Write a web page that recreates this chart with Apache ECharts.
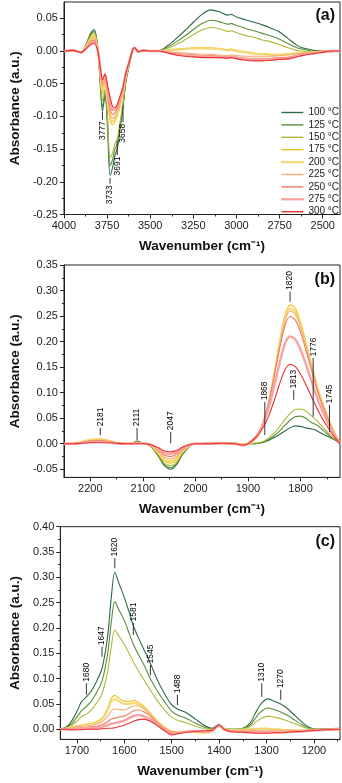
<!DOCTYPE html>
<html>
<head>
<meta charset="utf-8">
<script src="https://cdn.jsdelivr.net/npm/echarts@6.0.0/dist/echarts.min.js"></script>
<style>
  html, body { margin: 0; padding: 0; background: #fff; }
  #chart { width: 342px; height: 783px; }
</style>
</head>
<body>
<div id="chart"></div>
<script>
// legend labels
const TEMPS = ["100 °C", "125 °C", "150 °C", "175 °C", "200 °C", "225 °C", "250 °C", "275 °C", "300 °C"];

// ---- panel (a): OH region ----
const wnA = [4000, 3950, 3900, 3870, 3845, 3825, 3805, 3790, 3777, 3762,
  3748, 3733, 3718, 3705, 3690, 3675, 3658, 3640, 3620, 3600,
  3590, 3570, 3540, 3500, 3450, 3400, 3350, 3300, 3250, 3200,
  3150, 3100, 3050, 3030, 3000, 2950, 2900, 2850, 2800, 2750,
  2700, 2650, 2620, 2600, 2550, 2500, 2450, 2400];
const a100 = [0, 0.001, -0.003, 0.012, 0.027, 0.033, 0.008, -0.05, -0.092, -0.068,
  -0.115, -0.19, -0.178, -0.16, -0.148, -0.12, -0.086, -0.046, -0.02, 0.003,
  0.005, -0.001, 0.001, 0, 0, 0.008, 0.019, 0.031, 0.044, 0.056,
  0.063, 0.06, 0.055, 0.056, 0.052, 0.048, 0.044, 0.04, 0.035, 0.029,
  0.019, 0.009, 0.005, 0.004, 0.001, 0, -0.001, 0];
const a125 = [0, 0.001, -0.002, 0.011, 0.025, 0.03, 0.007, -0.045, -0.085, -0.063,
  -0.105, -0.175, -0.166, -0.15, -0.14, -0.114, -0.083, -0.044, -0.019, 0.003,
  0.005, -0.001, 0.001, 0, 0, 0.006, 0.014, 0.023, 0.033, 0.042,
  0.047, 0.045, 0.041, 0.042, 0.039, 0.035, 0.031, 0.027, 0.023, 0.018,
  0.011, 0.005, 0.003, 0.002, 0, 0, -0.001, 0];
const a150 = [0, 0.001, -0.002, 0.01, 0.023, 0.028, 0.006, -0.04, -0.076, -0.058,
  -0.098, -0.163, -0.156, -0.142, -0.133, -0.108, -0.079, -0.042, -0.018, 0.003,
  0.005, -0.001, 0.001, 0, 0, 0.004, 0.01, 0.017, 0.025, 0.032,
  0.036, 0.034, 0.03, 0.031, 0.028, 0.024, 0.021, 0.017, 0.014, 0.01,
  0.005, 0.001, 0, -0.001, -0.001, 0, 0, 0];
const a175 = [0, 0.001, -0.002, 0.009, 0.02, 0.025, 0.004, -0.035, -0.065, -0.05,
  -0.078, -0.106, -0.113, -0.108, -0.099, -0.085, -0.066, -0.037, -0.017, 0.003,
  0.005, -0.001, 0.001, 0, 0, 0.002, 0.003, 0.004, 0.005, 0.005,
  0.005, 0.004, 0.002, 0.003, 0.001, -0.001, -0.003, -0.004, -0.005, -0.005,
  -0.004, -0.003, -0.003, -0.002, -0.001, 0, 0, 0];
const a200 = [0, 0.001, -0.002, 0.008, 0.018, 0.022, 0.004, -0.032, -0.06, -0.046,
  -0.073, -0.1, -0.108, -0.104, -0.096, -0.082, -0.064, -0.036, -0.017, 0.003,
  0.005, -0.001, 0.001, 0, 0, 0.001, 0.002, 0.003, 0.004, 0.004,
  0.004, 0.003, 0.001, 0.002, 0, -0.002, -0.004, -0.005, -0.006, -0.006,
  -0.005, -0.004, -0.003, -0.003, -0.002, -0.001, 0, 0];
const a225 = [0, 0.001, -0.002, 0.007, 0.016, 0.02, 0.003, -0.03, -0.055, -0.043,
  -0.068, -0.095, -0.103, -0.1, -0.093, -0.079, -0.062, -0.035, -0.016, 0.003,
  0.005, -0.001, 0.001, 0, 0, -0.001, -0.002, -0.003, -0.004, -0.005,
  -0.005, -0.006, -0.007, -0.006, -0.007, -0.008, -0.008, -0.008, -0.008, -0.007,
  -0.006, -0.004, -0.003, -0.003, -0.002, -0.001, 0, 0];
const a250 = [0, 0.001, -0.002, 0.006, 0.014, 0.017, 0.002, -0.028, -0.05, -0.04,
  -0.062, -0.087, -0.097, -0.095, -0.088, -0.075, -0.059, -0.034, -0.016, 0.003,
  0.005, -0.001, 0.001, 0, 0, -0.002, -0.004, -0.005, -0.006, -0.007,
  -0.007, -0.008, -0.009, -0.008, -0.009, -0.011, -0.011, -0.011, -0.011, -0.01,
  -0.009, -0.007, -0.005, -0.004, -0.003, -0.001, 0, 0];
const a275 = [0, 0.001, -0.002, 0.005, 0.012, 0.014, 0.002, -0.026, -0.047, -0.037,
  -0.057, -0.078, -0.09, -0.09, -0.084, -0.072, -0.057, -0.033, -0.015, 0.003,
  0.005, -0.001, 0.001, 0, 0, -0.002, -0.005, -0.006, -0.007, -0.008,
  -0.009, -0.009, -0.01, -0.009, -0.01, -0.012, -0.013, -0.013, -0.012, -0.012,
  -0.011, -0.008, -0.006, -0.005, -0.003, -0.001, 0, 0];
const a300 = [0, 0.001, -0.002, 0.004, 0.01, 0.012, 0.001, -0.024, -0.044, -0.035,
  -0.052, -0.07, -0.085, -0.087, -0.081, -0.069, -0.055, -0.032, -0.015, 0.003,
  0.005, -0.001, 0.001, 0, 0, -0.003, -0.006, -0.008, -0.009, -0.01,
  -0.01, -0.01, -0.011, -0.01, -0.012, -0.014, -0.015, -0.015, -0.014, -0.013,
  -0.012, -0.009, -0.007, -0.006, -0.004, -0.002, 0, 0];
// peak labels: [wavenumber, line start, line end]
const annA = [[3777, -0.093, -0.105], [3733, -0.194, -0.203], [3691, -0.138, -0.159], [3658, -0.083, -0.109]];
const xTicksA = [2500, 2750, 3000, 3250, 3500, 3750, 4000];
const xMinorA = [2625, 2875, 3125, 3375, 3625, 3875];
const yTicksA = [-0.25, -0.2, -0.15, -0.1, -0.05, 0, 0.05];
const yMinorA = [-0.225, -0.175, -0.125, -0.075, -0.025, 0.025];

// ---- panel (b): carbonyl region ----
const wnB = [2250, 2230, 2215, 2200, 2181, 2165, 2150, 2135, 2120, 2111,
  2100, 2085, 2070, 2060, 2047, 2035, 2025, 2010, 2000, 1975,
  1950, 1925, 1910, 1900, 1890, 1880, 1870, 1860, 1850, 1840,
  1830, 1820, 1810, 1800, 1790, 1780, 1770, 1760, 1750, 1740,
  1730, 1725];
const b100 = [0, 0, 0.002, 0.005, 0.006, 0.004, 0.001, 0, 0.001, 0.005,
  0.001, -0.005, -0.025, -0.042, -0.05, -0.04, -0.022, -0.004, 0, 0.001,
  0.001, 0.001, 0, 0, 0, 0.001, 0.003, 0.007, 0.012, 0.018,
  0.025, 0.031, 0.035, 0.034, 0.031, 0.029, 0.026, 0.02, 0.015, 0.01,
  0.004, 0];
const b125 = [0, 0, 0.002, 0.005, 0.006, 0.004, 0.001, 0, 0.001, 0.004,
  0.001, -0.005, -0.024, -0.04, -0.047, -0.038, -0.021, -0.004, 0, 0.001,
  0.001, 0.001, 0, 0, 0, 0.001, 0.004, 0.009, 0.016, 0.025,
  0.036, 0.046, 0.053, 0.054, 0.05, 0.042, 0.037, 0.029, 0.02, 0.012,
  0.005, 0];
const b150 = [0, 0, 0.003, 0.006, 0.007, 0.005, 0.001, 0, 0.001, 0.003,
  0.001, -0.004, -0.022, -0.037, -0.043, -0.035, -0.019, -0.003, 0, 0.001,
  0.001, 0.001, 0, 0, 0.001, 0.002, 0.005, 0.012, 0.021, 0.033,
  0.047, 0.059, 0.067, 0.068, 0.064, 0.055, 0.046, 0.035, 0.024, 0.014,
  0.005, 0];
const b175 = [0, 0.001, 0.004, 0.008, 0.009, 0.006, 0.002, 0, 0.001, 0.002,
  0.001, -0.004, -0.02, -0.033, -0.038, -0.031, -0.017, -0.003, 0, 0,
  0.001, 0, -0.001, 0, 0.005, 0.018, 0.045, 0.085, 0.14, 0.2,
  0.25, 0.272, 0.265, 0.238, 0.2, 0.16, 0.12, 0.086, 0.058, 0.032,
  0.01, 0];
const b200 = [0, 0.001, 0.004, 0.008, 0.009, 0.006, 0.002, 0, 0.001, 0.002,
  0.001, -0.003, -0.018, -0.03, -0.035, -0.028, -0.015, -0.003, 0, 0,
  0.001, 0, -0.001, 0, 0.005, 0.018, 0.044, 0.083, 0.137, 0.195,
  0.244, 0.265, 0.258, 0.232, 0.195, 0.156, 0.117, 0.084, 0.056, 0.031,
  0.01, 0];
const b225 = [0, 0.001, 0.003, 0.006, 0.007, 0.005, 0.001, 0, 0.001, 0.001,
  0.001, -0.003, -0.016, -0.026, -0.03, -0.024, -0.013, -0.002, 0, 0,
  0.001, 0, -0.002, 0, 0.006, 0.019, 0.045, 0.083, 0.135, 0.19,
  0.24, 0.26, 0.253, 0.228, 0.192, 0.153, 0.115, 0.083, 0.055, 0.03,
  0.009, 0];
const b250 = [0, 0.001, 0.003, 0.005, 0.006, 0.004, 0.001, 0, 0, 0.001,
  0.001, -0.002, -0.013, -0.022, -0.025, -0.02, -0.011, -0.002, 0, 0,
  0.001, 0, -0.002, 0, 0.007, 0.02, 0.046, 0.083, 0.133, 0.185,
  0.23, 0.249, 0.242, 0.218, 0.184, 0.147, 0.11, 0.079, 0.053, 0.029,
  0.009, 0];
const b275 = [0, 0, 0.002, 0.003, 0.004, 0.003, 0.001, 0, 0, 0.001,
  0.001, -0.002, -0.011, -0.018, -0.02, -0.016, -0.009, -0.002, 0, 0,
  0.001, 0, -0.003, 0, 0.008, 0.02, 0.042, 0.073, 0.113, 0.157,
  0.195, 0.21, 0.204, 0.184, 0.156, 0.125, 0.094, 0.068, 0.045, 0.025,
  0.008, 0];
const b300 = [0, 0, 0.001, 0.002, 0.002, 0.002, 0.001, 0, 0, 0,
  0, -0.002, -0.008, -0.014, -0.016, -0.013, -0.007, -0.001, 0, 0,
  0.001, 0, -0.003, 0, 0.008, 0.018, 0.034, 0.056, 0.085, 0.117,
  0.144, 0.155, 0.151, 0.136, 0.116, 0.094, 0.072, 0.052, 0.035, 0.019,
  0.006, 0];
const annB = [[2181, 0.017, 0.031], [2111, 0.007, 0.031], [2047, 0.001, 0.0235], [1868, 0.017, 0.082],
  [1820, 0.278, 0.298], [1813, 0.086, 0.105], [1776, 0.053, 0.168], [1745, 0.0235, 0.076]];
const xTicksB = [1800, 1900, 2000, 2100, 2200];
const xMinorB = [1750, 1850, 1950, 2050, 2150];
const yTicksB = [-0.05, 0, 0.05, 0.1, 0.15, 0.2, 0.25, 0.3, 0.35];
const yMinorB = [-0.025, 0.025, 0.075, 0.125, 0.175, 0.225, 0.275, 0.325];

// ---- panel (c): carbonate / formate region ----
const wnC = [1735, 1720, 1710, 1700, 1690, 1680, 1670, 1660, 1647, 1635,
  1628, 1620, 1612, 1600, 1590, 1581, 1570, 1560, 1545, 1530,
  1515, 1500, 1488, 1470, 1450, 1430, 1415, 1400, 1390, 1375,
  1350, 1335, 1320, 1310, 1297, 1285, 1270, 1255, 1240, 1225,
  1210, 1195, 1175, 1145];
const c100 = [0, 0.006, 0.018, 0.035, 0.055, 0.064, 0.075, 0.092, 0.12, 0.185,
  0.255, 0.31, 0.29, 0.26, 0.232, 0.205, 0.18, 0.16, 0.13, 0.097,
  0.07, 0.048, 0.04, 0.033, 0.02, 0.007, 0.002, 0.01, 0.002, 0,
  0.002, 0.012, 0.038, 0.052, 0.06, 0.056, 0.05, 0.04, 0.027, 0.014,
  0.004, 0, 0.001, 0.002];
const c125 = [0, 0.004, 0.012, 0.024, 0.037, 0.045, 0.055, 0.07, 0.095, 0.15,
  0.207, 0.252, 0.237, 0.215, 0.19, 0.168, 0.147, 0.13, 0.1, 0.075,
  0.054, 0.036, 0.028, 0.022, 0.012, 0.004, 0.001, 0.009, 0.002, 0,
  0.001, 0.008, 0.026, 0.036, 0.042, 0.039, 0.034, 0.027, 0.018, 0.009,
  0.002, 0, 0.001, 0.001];
const c150 = [0, 0.003, 0.008, 0.016, 0.025, 0.03, 0.038, 0.05, 0.07, 0.115,
  0.16, 0.196, 0.185, 0.168, 0.15, 0.133, 0.115, 0.1, 0.077, 0.056,
  0.038, 0.024, 0.018, 0.013, 0.006, 0.001, 0, 0.008, 0.001, 0,
  0.001, 0.005, 0.016, 0.022, 0.026, 0.024, 0.021, 0.016, 0.011, 0.005,
  0.001, 0, 0, 0.001];
const c175 = [0, 0.002, 0.004, 0.006, 0.008, 0.01, 0.012, 0.015, 0.022, 0.042,
  0.06, 0.067, 0.062, 0.055, 0.055, 0.057, 0.053, 0.046, 0.032, 0.016,
  0.004, -0.005, -0.006, -0.005, -0.006, -0.007, -0.004, 0.008, 0, -0.001,
  -0.001, 0, 0.001, 0.002, 0.002, 0.001, 0, -0.001, -0.002, -0.002,
  -0.002, -0.002, -0.001, 0];
const c200 = [0, 0.002, 0.004, 0.006, 0.008, 0.01, 0.011, 0.013, 0.02, 0.038,
  0.054, 0.06, 0.056, 0.05, 0.05, 0.052, 0.049, 0.043, 0.03, 0.015,
  0.004, -0.004, -0.006, -0.005, -0.006, -0.007, -0.004, 0.008, 0, -0.001,
  -0.001, 0, 0.001, 0.001, 0.001, 0, -0.001, -0.002, -0.002, -0.003,
  -0.003, -0.002, -0.001, 0];
const c225 = [0, 0.001, 0.003, 0.005, 0.006, 0.007, 0.008, 0.01, 0.015, 0.026,
  0.036, 0.04, 0.039, 0.038, 0.042, 0.046, 0.046, 0.041, 0.029, 0.014,
  0.003, -0.005, -0.006, -0.005, -0.005, -0.006, -0.004, 0.008, 0, -0.002,
  -0.002, -0.002, -0.002, -0.002, -0.002, -0.003, -0.003, -0.003, -0.003, -0.003,
  -0.003, -0.002, -0.001, 0];
const c250 = [0, 0, 0.001, 0.002, 0.003, 0.004, 0.005, 0.006, 0.009, 0.015,
  0.02, 0.022, 0.024, 0.026, 0.031, 0.036, 0.038, 0.035, 0.026, 0.012,
  0.001, -0.007, -0.007, -0.005, -0.004, -0.004, -0.003, 0.008, 0, -0.003,
  -0.004, -0.004, -0.004, -0.005, -0.005, -0.005, -0.005, -0.004, -0.004, -0.004,
  -0.003, -0.002, -0.001, 0];
const c275 = [0, 0, 0, 0.001, 0.001, 0.002, 0.002, 0.003, 0.005, 0.008,
  0.011, 0.012, 0.014, 0.017, 0.022, 0.026, 0.028, 0.026, 0.02, 0.009,
  -0.001, -0.009, -0.008, -0.005, -0.004, -0.004, -0.003, 0.008, 0, -0.004,
  -0.005, -0.006, -0.006, -0.006, -0.006, -0.006, -0.006, -0.005, -0.005, -0.004,
  -0.003, -0.002, -0.001, 0];
const c300 = [0, 0, -0.001, -0.001, -0.001, 0, 0, 0, 0.001, 0.002,
  0.002, 0.003, 0.005, 0.008, 0.012, 0.016, 0.019, 0.02, 0.016, 0.007,
  -0.003, -0.011, -0.009, -0.006, -0.004, -0.003, -0.002, 0.009, 0, -0.005,
  -0.006, -0.007, -0.008, -0.008, -0.008, -0.007, -0.007, -0.006, -0.005, -0.004,
  -0.003, -0.002, -0.001, 0];
const annC = [[1680, 0.068, 0.091], [1647, 0.143, 0.163], [1620, 0.318, 0.338], [1581, 0.186, 0.21],
  [1545, 0.107, 0.127], [1488, 0.048, 0.068], [1310, 0.064, 0.091], [1270, 0.058, 0.078]];
const xTicksC = [1200, 1300, 1400, 1500, 1600, 1700];
const xMinorC = [1150, 1250, 1350, 1450, 1550, 1650];
const yTicksC = [0, 0.05, 0.1, 0.15, 0.2, 0.25, 0.3, 0.35, 0.4];
const yMinorC = [0.025, 0.075, 0.125, 0.175, 0.225, 0.275, 0.325, 0.375];

// styling
const COLORS = ["#2f6a45", "#5b8e3c", "#b2b83a", "#eec51c", "#f4d672", "#f6ae6e", "#ef7d5a", "#f8a2a2", "#ef2f2f"];
const WIDTHS = [1.1, 1.1, 1.1, 1.1, 2, 1.1, 1.1, 2.4, 1.1];
const FONT = "'Liberation Sans', Arial, sans-serif";
const INK = "#222";

const panels = [
  { wn: wnA, ys: [a100, a125, a150, a175, a200, a225, a250, a275, a300], ann: annA,
    grid: { left: 50, top: 2, width: 290, height: 212.5 },
    x: [2400, 4000, xTicksA, xMinorA], y: [-0.25, 0.075, yTicksA, yMinorA], tag: "(a)", tagTop: 8 },
  { wn: wnB, ys: [b100, b125, b150, b175, b200, b225, b250, b275, b300], ann: annB,
    grid: { left: 50, top: 265, width: 290, height: 212.4 },
    x: [1725, 2250, xTicksB, xMinorB], y: [-0.066, 0.35, yTicksB, yMinorB], tag: "(b)", tagTop: 272 },
  { wn: wnC, ys: [c100, c125, c150, c175, c200, c225, c250, c275, c300], ann: annC,
    grid: { left: 50, top: 526.7, width: 290, height: 212.7 },
    x: [1145, 1735, xTicksC, xMinorC], y: [-0.02, 0.4, yTicksC, yMinorC], tag: "(c)", tagTop: 533.5 }
];

const nameStyle = { fontSize: 13.5, fontWeight: "bold", color: "#111", fontFamily: FONT };
const labelStyle = { fontSize: 11, color: INK, fontFamily: FONT };

const grids = [], xAxes = [], yAxes = [], series = [], graphics = [];

function renderAnno(params, api) {
  const p0 = api.coord([api.value(0), api.value(1)]);
  const p1 = api.coord([api.value(0), api.value(2)]);
  const down = p1[1] > p0[1];
  return {
    type: "group",
    children: [
      { type: "line", shape: { x1: p0[0], y1: p0[1], x2: p1[0], y2: p1[1] },
        style: { stroke: "#333", lineWidth: 1 } },
      { type: "text", x: p1[0], y: p1[1] + (down ? 1.5 : -1.5), rotation: Math.PI / 2,
        style: { text: String(api.value(0)), fontSize: 8.5, fontFamily: FONT, fill: "#000",
          align: down ? "right" : "left", verticalAlign: "middle" } }
    ]
  };
}

panels.forEach((p, g) => {
  grids.push(Object.assign({ show: true, borderColor: INK, borderWidth: 1, backgroundColor: "transparent" }, p.grid));
  const [xmin, xmax, xt, xm] = p.x;
  const [ymin, ymax, yt, ym] = p.y;
  // main x axis
  xAxes.push({
    type: "value", gridIndex: g, position: "bottom", inverse: true, min: xmin, max: xmax,
    name: "Wavenumber (cm⁻¹)", nameLocation: "middle", nameGap: 25, nameTextStyle: nameStyle,
    axisLine: { show: true, onZero: false, lineStyle: { color: INK, width: 1 } },
    axisTick: { show: true, length: 4, customValues: xt, lineStyle: { color: INK } },
    axisLabel: Object.assign({ customValues: xt, margin: 6, formatter: v => String(v) }, labelStyle),
    splitLine: { show: false }
  });
  // minor x ticks
  xAxes.push({
    type: "value", gridIndex: g, position: "bottom", inverse: true, min: xmin, max: xmax,
    axisLine: { show: false, onZero: false },
    axisTick: { show: true, length: 2, customValues: xm, lineStyle: { color: INK } },
    axisLabel: { show: false }, splitLine: { show: false }
  });
  yAxes.push({
    type: "value", gridIndex: g, position: "left", min: ymin, max: ymax,
    name: "Absorbance (a.u.)", nameLocation: "middle", nameGap: 33, nameRotate: 90, nameTextStyle: nameStyle,
    axisLine: { show: true, onZero: false, lineStyle: { color: INK, width: 1 } },
    axisTick: { show: true, length: 4, customValues: yt, lineStyle: { color: INK } },
    axisLabel: Object.assign({ customValues: yt, margin: 6, formatter: v => v.toFixed(2) }, labelStyle),
    splitLine: { show: false }
  });
  yAxes.push({
    type: "value", gridIndex: g, position: "left", min: ymin, max: ymax,
    axisLine: { show: false, onZero: false },
    axisTick: { show: true, length: 2, customValues: ym, lineStyle: { color: INK } },
    axisLabel: { show: false }, splitLine: { show: false }
  });

  p.ys.forEach((vals, i) => {
    series.push({
      type: "line", name: TEMPS[i], xAxisIndex: g * 2, yAxisIndex: g * 2,
      data: p.wn.map((w, k) => [w, vals[k]]),
      symbol: "none", showSymbol: false, smooth: 0.3, silent: true,
      lineStyle: { color: COLORS[i], width: WIDTHS[i] },
      itemStyle: { color: COLORS[i] }
    });
  });

  series.push({
    type: "custom", xAxisIndex: g * 2, yAxisIndex: g * 2, silent: true, z: 5,
    data: p.ann, encode: { x: 0, y: [1, 2] }, renderItem: renderAnno
  });

  graphics.push({
    type: "text", right: 7, top: p.tagTop,
    style: { text: p.tag, font: "bold 16px " + FONT, fill: "#111" }
  });
});

// legend entries: flat bar icons, thicker for the wide lines
const legendData = TEMPS.map((t, i) => ({
  name: t,
  icon: "rect",
  itemStyle: { color: COLORS[i], borderColor: COLORS[i], borderWidth: WIDTHS[i] > 1.5 ? 0.8 : 0 }
}));

const chart = echarts.init(document.getElementById("chart"));
chart.setOption({
  animation: false,
  backgroundColor: "#fff",
  grid: grids,
  xAxis: xAxes,
  yAxis: yAxes,
  legend: {
    data: legendData, orient: "vertical", left: 281, top: 107, padding: 0,
    itemWidth: 22, itemHeight: 1.4, itemGap: 1.4,
    textStyle: { fontSize: 10, lineHeight: 11, color: INK, fontFamily: FONT },
    selectedMode: false
  },
  series: series,
  graphic: graphics
});
</script>
</body>
</html>
